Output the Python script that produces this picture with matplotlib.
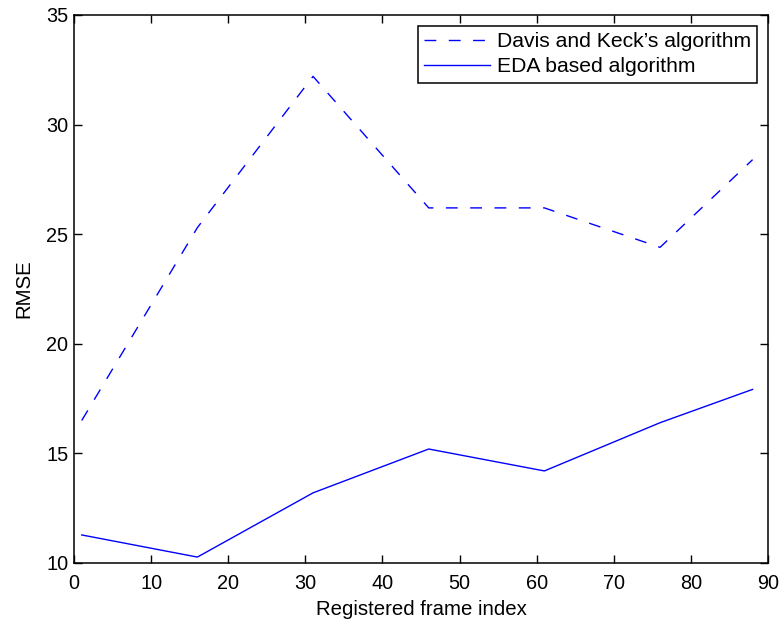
import matplotlib
matplotlib.use("Agg")
import matplotlib.pyplot as plt

# registered frame indices
frames = [1, 16, 31, 46, 61, 76, 88]
davis_keck = [16.5, 25.3, 32.2, 26.2, 26.2, 24.4, 28.4]
eda_based = [11.28, 10.27, 13.2, 15.2, 14.2, 16.4, 17.92]

plt.rcParams['font.family'] = ['Liberation Sans', 'DejaVu Sans']
plt.rcParams['font.size'] = 14

fig = plt.figure(figsize=(7.82, 6.21), dpi=100)
ax = fig.add_axes([74 / 782, 1 - 563 / 621, (768 - 74) / 782, (563 - 15) / 621])

ax.plot(frames, davis_keck, color='#0000ff', lw=1.0, dashes=(8.5, 9),
        label="Davis and Keck\u2019s algorithm")
ax.plot(frames, eda_based, color='#0000ff', lw=1.0, label='EDA based algorithm')

ax.set_xlim(0, 90)
ax.set_ylim(10, 35)
ax.set_xticks(range(0, 91, 10))
ax.set_yticks(range(10, 36, 5))
ax.tick_params(direction='in', length=6, width=1, top=True, right=True,
               labelsize=14.3)
ax.tick_params(axis='x', pad=8)
ax.tick_params(axis='y', pad=4)
for s in ax.spines.values():
    s.set_linewidth(1.1)

ax.set_xlabel('Registered frame index', fontsize=14.7, labelpad=5)
ax.set_ylabel('RMSE', fontsize=14.7, labelpad=9)

leg = ax.legend(loc='upper right', fancybox=False, framealpha=1, edgecolor='black',
                fontsize=15.2, handlelength=3.1, borderaxespad=0.5, borderpad=0.3,
                labelspacing=0.3, handletextpad=0.35)
leg.get_frame().set_linewidth(1.1)

fig.savefig('out.png', dpi=100)
